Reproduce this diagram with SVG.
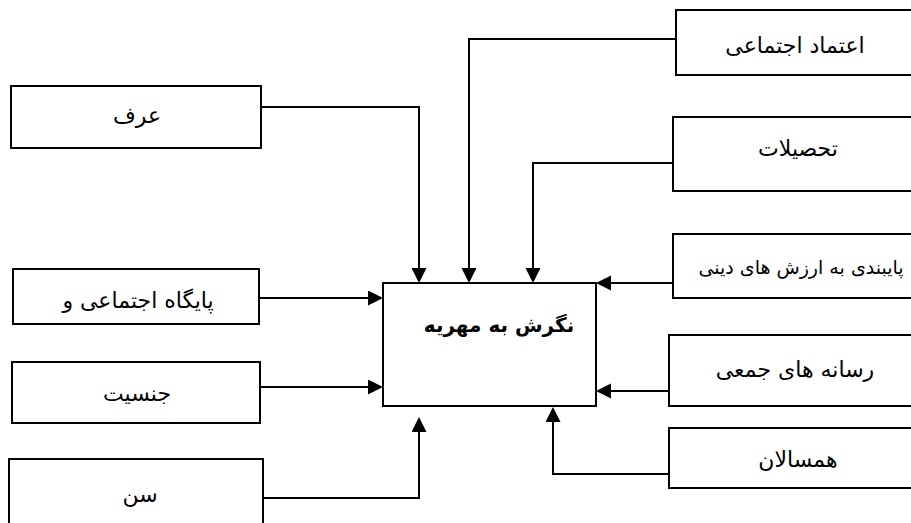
<svg xmlns="http://www.w3.org/2000/svg" width="911" height="523" viewBox="0 0 911 523">
<style>
.box{fill:#fff;stroke:#000;stroke-width:2}
.lbl{font-family:"DejaVu Sans",sans-serif;font-size:22px;fill:#000;text-anchor:middle}
.sm{font-size:19px}
.title{font-weight:bold;font-size:20px}
.con{fill:none;stroke:#000;stroke-width:2}
</style>
<defs>
<marker id="arr" markerUnits="userSpaceOnUse" markerWidth="16" markerHeight="16" refX="0" refY="7.5" orient="auto">
<path d="M0,0 L15,7.5 L0,15 z" fill="#000"/>
</marker>
</defs>
<rect width="911" height="523" fill="#fff"/>
<g id="connectors">
<path class="con" d="M261,107 H419 V268" marker-end="url(#arr)"/>
<path class="con" d="M676,39 H469 V268" marker-end="url(#arr)"/>
<path class="con" d="M673,163 H533 V268" marker-end="url(#arr)"/>
<path class="con" d="M688,283 H611" marker-end="url(#arr)"/>
<path class="con" d="M673,391 H611" marker-end="url(#arr)"/>
<path class="con" d="M669,474 H553 V422" marker-end="url(#arr)"/>
<path class="con" d="M259,298 H368" marker-end="url(#arr)"/>
<path class="con" d="M260,387 H368" marker-end="url(#arr)"/>
<path class="con" d="M263,498 H419 V432" marker-end="url(#arr)"/>
</g>
<g id="center">
<rect class="box" x="383" y="283" width="213" height="123"/>
<text class="lbl title" x="499" y="332">نگرش به مهریه</text>
</g>
<g id="orf">
<rect class="box" x="11" y="86" width="250" height="62"/>
<text class="lbl" x="137" y="123">عرف</text>
</g>
<g id="paygah">
<rect class="box" x="13" y="269" width="246" height="55"/>
<text class="lbl" x="138" y="308">پایگاه اجتماعی و</text>
</g>
<g id="jensiat">
<rect class="box" x="12" y="362" width="248" height="61"/>
<text class="lbl" x="137" y="401">جنسیت</text>
</g>
<g id="sen">
<rect class="box" x="9" y="459" width="254" height="80"/>
<text class="lbl" x="140" y="502">سن</text>
</g>
<g id="etemad">
<rect class="box" x="676" y="10" width="250" height="65"/>
<text class="lbl" x="795" y="53">اعتماد اجتماعی</text>
</g>
<g id="tahsilat">
<rect class="box" x="673" y="117" width="250" height="74"/>
<text class="lbl" x="798" y="156">تحصیلات</text>
</g>
<g id="paybandi">
<rect class="box" x="673" y="234" width="250" height="64"/>
<text class="lbl sm" x="801" y="274">پایبندی به ارزش های دینی</text>
</g>
<g id="resaneh">
<rect class="box" x="669" y="335" width="250" height="71"/>
<text class="lbl" x="795" y="377">رسانه های جمعی</text>
</g>
<g id="hamsalan">
<rect class="box" x="669" y="428" width="250" height="60"/>
<text class="lbl" x="798" y="467">همسالان</text>
</g>
</svg>
